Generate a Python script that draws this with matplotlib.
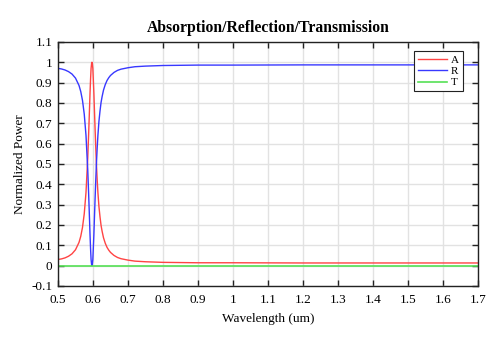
import matplotlib
matplotlib.use("Agg")
import matplotlib.pyplot as plt

# values
wavelength = [0.50, 0.51, 0.52, 0.53, 0.54, 0.55, 0.56, 0.565, 0.57, 0.575, 0.58, 0.585,
              0.5875, 0.59, 0.5915, 0.593, 0.5945, 0.596, 0.597, 0.598, 0.5995, 0.601,
              0.6025, 0.604, 0.606, 0.608, 0.61, 0.612, 0.614, 0.617, 0.62, 0.623, 0.626,
              0.63, 0.635, 0.64, 0.645, 0.65, 0.66, 0.67, 0.68, 0.70, 0.72, 0.75, 0.80,
              0.90, 1.00, 1.20, 1.40, 1.60, 1.70]
absorption = [0.030, 0.033, 0.038, 0.046, 0.058, 0.078, 0.114, 0.144, 0.188, 0.255, 0.36, 0.53,
              0.645, 0.77, 0.848, 0.915, 0.97, 0.995, 1.0, 0.994, 0.97, 0.91,
              0.848, 0.77, 0.67, 0.575, 0.49, 0.42, 0.36, 0.29, 0.24, 0.198, 0.169,
              0.137, 0.11, 0.09, 0.076, 0.065, 0.05, 0.04, 0.034, 0.027, 0.022, 0.019, 0.016,
              0.014, 0.014, 0.013, 0.013, 0.013, 0.013]
reflection = [0.970, 0.967, 0.962, 0.954, 0.942, 0.922, 0.886, 0.856, 0.812, 0.745, 0.64, 0.47,
              0.355, 0.23, 0.152, 0.085, 0.03, 0.005, 0.0, 0.006, 0.03, 0.09,
              0.152, 0.23, 0.33, 0.425, 0.51, 0.58, 0.64, 0.71, 0.76, 0.802, 0.831,
              0.863, 0.89, 0.91, 0.924, 0.935, 0.95, 0.96, 0.966, 0.973, 0.978, 0.981, 0.984,
              0.986, 0.986, 0.987, 0.987, 0.987, 0.987]
transmission = [0.0] * len(wavelength)

xticks = [0.5, 0.6, 0.7, 0.8, 0.9, 1.0, 1.1, 1.2, 1.3, 1.4, 1.5, 1.6, 1.7]
xticklabels = ["0.5", "0.6", "0.7", "0.8", "0.9", "1", "1.1", "1.2", "1.3", "1.4", "1.5", "1.6", "1.7"]
yticks = [-0.1, 0.0, 0.1, 0.2, 0.3, 0.4, 0.5, 0.6, 0.7, 0.8, 0.9, 1.0, 1.1]
yticklabels = ["-0.1", "0", "0.1", "0.2", "0.3", "0.4", "0.5", "0.6", "0.7", "0.8", "0.9", "1", "1.1"]

plt.rcParams['font.family'] = ['Liberation Serif', 'DejaVu Serif']

fig = plt.figure(figsize=(5, 3.38), dpi=100)
ax = fig.add_axes([0.116, 0.154, 0.84, 0.722])

ax.plot(wavelength, absorption, color='#ff4444', lw=1.0, label='A')
ax.plot(wavelength, reflection, color='#3838ff', lw=1.0, label='R')
ax.plot(wavelength, transmission, color='#55e055', lw=1.2, label='T')

ax.set_xlim(0.5, 1.7)
ax.set_ylim(-0.1, 1.1)
ax.set_xticks(xticks)
ax.set_xticklabels(xticklabels)
ax.set_yticks(yticks)
ax.set_yticklabels(yticklabels)
ax.tick_params(direction='in', top=True, right=True, length=4, width=1, labelsize=9.5, color='#222222')
ax.tick_params(axis='x', pad=6)
ax.tick_params(axis='y', pad=4)
ax.grid(True, color='#e2e2e2', lw=1.0)
ax.set_axisbelow(True)
for s in ax.spines.values():
    s.set_color('#222222')
    s.set_linewidth(1.0)

ax.set_xlabel('Wavelength (um)', fontsize=9.5, labelpad=5)
ax.set_ylabel('Normalized Power', fontsize=9.5, labelpad=4)
ax.set_title('Absorption/Reflection/Transmission', fontsize=11.3, fontweight='bold', pad=7)

leg = ax.legend(loc='upper right', bbox_to_anchor=(0.964, 0.963), fontsize=8, handlelength=2.6,
                handletextpad=0.4, borderpad=0.35, labelspacing=0.15, fancybox=False,
                framealpha=1, edgecolor='#222222', borderaxespad=0)
leg.get_frame().set_linewidth(0.8)

fig.savefig('out.png', dpi=100)
